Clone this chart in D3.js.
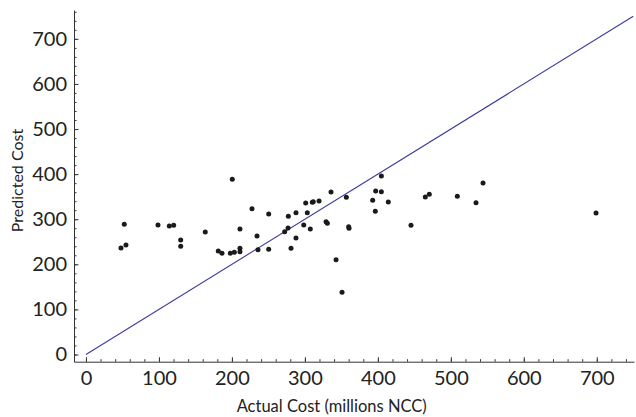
<!DOCTYPE html>
<html>
<head>
<meta charset="utf-8">
<script src="https://cdn.jsdelivr.net/npm/d3@7"></script>
<style>
  body { margin: 0; background: #fff; }
  svg text { font-family: Lato, "Open Sans", sans-serif; fill: #222; }
</style>
</head>
<body>
<div id="chart-area"></div>
<script>
// actual vs predicted cost
var actual = [48, 52.5, 54.8, 98.7, 114.2, 120.2, 129.8, 129.8, 163.5, 181.3,
  186.4, 197.8, 200.5, 203.3, 211, 211, 211, 227.5, 234.4, 235.7,
  250.4, 250.4, 272.3, 276.9, 277.3, 281, 287.8, 287.8, 298.4, 301.1,
  303.3, 307.4, 310.2, 311.5, 319.4, 329, 330.8, 335.8, 342.7, 350.9,
  356.8, 360, 360.5, 392.9, 396.5, 397, 404.8, 404.8, 414.3, 445.4,
  465, 470.5, 508.9, 534.5, 544.1, 699];
var predicted = [236, 288.7, 242.8, 287, 285, 286.5, 254, 240, 271.6, 229.5,
  224.4, 224.4, 388.5, 226.6, 278.3, 235.5, 228, 323.3, 262.7, 232.4,
  311.5, 233.2, 272.3, 280.5, 306.4, 235.5, 258.3, 314.4, 287.1, 335.9,
  314.4, 278.3, 337.4, 339, 340.4, 294.5, 290.9, 360.3, 210.2, 137.9,
  348.6, 283.4, 279.8, 341.9, 317.5, 362.5, 395.8, 361, 338.1, 286.5,
  349.2, 355.2, 350.8, 336.6, 380.3, 313.7];
var xTicks = [0, 100, 200, 300, 400, 500, 600, 700];
var yTicks = [0, 100, 200, 300, 400, 500, 600, 700];

var points = actual.map(function(d, i){ return {x: d, y: predicted[i]}; });

var svg = d3.select("#chart-area")
  .append("svg")
    .attr("width", 636)
    .attr("height", 417);

var x = d3.scaleLinear().domain([-16.4, 751]).range([74, 634]);
var y = d3.scaleLinear().domain([-16, 764]).range([361.7, 10]);

// minor ticks every 20
var xMinor = d3.range(0, 751, 20);
var yMinor = d3.range(0, 764, 20);

svg.append("g")
  .attr("transform", "translate(0," + y(-16) + ")")
  .call(d3.axisBottom(x).tickValues(xMinor).tickSize(-2.5).tickSizeOuter(0).tickFormat(""))
  .call(function(g){ g.select(".domain").remove(); });

svg.append("g")
  .attr("transform", "translate(" + x(-16.4) + ",0)")
  .call(d3.axisLeft(y).tickValues(yMinor).tickSize(-2.5).tickSizeOuter(0).tickFormat(""))
  .call(function(g){ g.select(".domain").remove(); });

// major axes
var xAxis = svg.append("g")
  .attr("transform", "translate(0," + y(-16) + ")")
  .call(d3.axisBottom(x).tickValues(xTicks).tickSize(-4.5).tickSizeOuter(0).tickPadding(9));
xAxis.selectAll("text").attr("font-size", "20px");

var yAxis = svg.append("g")
  .attr("transform", "translate(" + x(-16.4) + ",0)")
  .call(d3.axisLeft(y).tickValues(yTicks).tickSize(-4.5).tickSizeOuter(0).tickPadding(7));
yAxis.selectAll("text").attr("font-size", "20px");

svg.selectAll(".domain, .tick line").attr("stroke", "#333");

// y = x reference line
svg.append("line")
  .attr("x1", x(0)).attr("y1", y(0))
  .attr("x2", x(750)).attr("y2", y(750))
  .attr("stroke", "#3c3c9c")
  .attr("stroke-width", 1.1);

svg.selectAll("circle")
  .data(points)
  .enter()
  .append("circle")
    .attr("cx", function(d){ return x(d.x); })
    .attr("cy", function(d){ return y(d.y); })
    .attr("r", 2.5)
    .attr("fill", "#1a1a1a");

// axis titles
svg.append("text")
  .attr("x", 331.7)
  .attr("y", 412)
  .attr("font-size", "16.5px")
  .attr("text-anchor", "middle")
  .text("Actual Cost (millions NCC)");

svg.append("text")
  .attr("x", -180.5)
  .attr("y", 22.5)
  .attr("font-size", "16px")
  .attr("text-anchor", "middle")
  .attr("transform", "rotate(-90)")
  .text("Predicted Cost");
</script>
</body>
</html>
